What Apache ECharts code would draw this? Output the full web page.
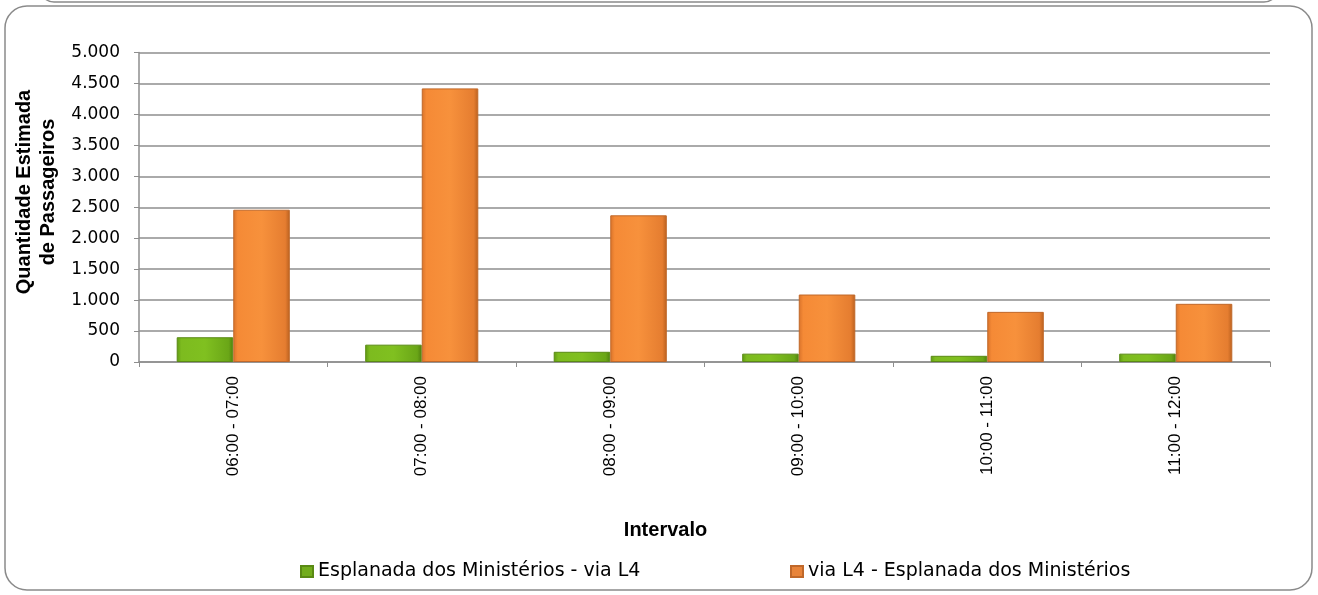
<!DOCTYPE html>
<html>
<head>
<meta charset="utf-8">
<script src="https://cdn.jsdelivr.net/npm/echarts@6/dist/echarts.min.js"></script>
<style>
html,body{margin:0;padding:0;background:#fff;}
#c{width:1318px;height:595px;}
</style>
</head>
<body>
<div id="c"></div>
<script>
var categories = ['06:00 - 07:00','07:00 - 08:00','08:00 - 09:00','09:00 - 10:00','10:00 - 11:00','11:00 - 12:00'];
var seriesNames = ['Esplanada dos Ministérios - via L4','via L4 - Esplanada dos Ministérios'];
var greenValues = [400, 280, 165, 135, 100, 135];
var orangeValues = [2460, 4420, 2370, 1090, 810, 940];
var yAxisTitle = 'Quantidade Estimada\nde Passageiros';
var xAxisTitle = 'Intervalo';

var FONT = '"Liberation Sans", "DejaVu Sans", sans-serif';
var WIDE = '"DejaVu Sans", "Liberation Sans", sans-serif';
var chart = echarts.init(document.getElementById('c'), null, {renderer:'canvas'});

function grad(stops){
  return new echarts.graphic.LinearGradient(0,0,1,0, stops);
}
var greenFill = grad([
  {offset:0, color:'#5f9a12'},
  {offset:0.08, color:'#7dbb1f'},
  {offset:0.5, color:'#80c020'},
  {offset:0.92, color:'#6aa617'},
  {offset:1, color:'#4f800e'}
]);
var orangeFill = grad([
  {offset:0, color:'#d8722a'},
  {offset:0.08, color:'#f58a36'},
  {offset:0.5, color:'#f7913c'},
  {offset:0.92, color:'#e57d30'},
  {offset:1, color:'#b9601f'}
]);

chart.setOption({
  backgroundColor:'#ffffff',
  animation:false,
  textStyle:{fontFamily:FONT},
  graphic:[
    {type:'rect', shape:{x:5,y:6,width:1307,height:584,r:22}, style:{fill:'none', stroke:'#8a8a8a', lineWidth:1.5}, z:-1},
    {type:'rect', shape:{x:40,y:-30,width:1238,height:32,r:14}, style:{fill:'none', stroke:'#8a8a8a', lineWidth:1.5}, z:-1},
    {type:'text', x:36, y:192, rotation:Math.PI/2,
     style:{text:yAxisTitle, align:'center', verticalAlign:'middle', lineHeight:24,
            font:'bold 20px "Liberation Sans", sans-serif', fill:'#000'}}
  ],
  grid:{left:139, right:48, top:52.5, bottom:233, containLabel:false},
  legend:[
    {data:[{name:seriesNames[0], itemStyle:{color:'#72ad1c'}}], left:300, top:562, padding:0,
     itemWidth:12, itemHeight:11, icon:'rect',
     textStyle:{fontSize:19, color:'#000', fontFamily:WIDE}},
    {data:[{name:seriesNames[1], itemStyle:{color:'#e8843a'}}], left:790, top:562, padding:0,
     itemWidth:12, itemHeight:11, icon:'rect',
     textStyle:{fontSize:19, color:'#000', fontFamily:WIDE}}
  ],
  xAxis:{
    type:'category',
    data:categories,
    name:xAxisTitle,
    nameLocation:'middle',
    nameGap:158,
    nameTextStyle:{fontSize:20, fontWeight:'bold', color:'#000', padding:[0,78,0,0]},
    axisLine:{lineStyle:{color:'#8e8e8e', width:1.5}},
    axisTick:{show:true, length:5, lineStyle:{color:'#8e8e8e'}},
    axisLabel:{rotate:90, fontSize:17, color:'#000', margin:14, interval:0}
  },
  yAxis:{
    type:'value',
    min:0, max:5000, interval:500,
    axisLine:{show:true, lineStyle:{color:'#8e8e8e', width:1.5}},
    axisTick:{show:true, length:5, lineStyle:{color:'#8e8e8e'}},
    splitLine:{lineStyle:{color:'#8e8e8e', width:1.5}},
    axisLabel:{fontSize:17, color:'#000', margin:19, fontFamily:WIDE,
      formatter:function(v){return String(v).replace(/\B(?=(\d{3})+(?!\d))/g,'.');}}
  },
  series:[
    {name:seriesNames[0], type:'bar', data:greenValues, barGap:'0%', barCategoryGap:'40%',
     itemStyle:{color:greenFill, borderColor:'#5a8a14', borderWidth:1}},
    {name:seriesNames[1], type:'bar', data:orangeValues, barGap:'0%', barCategoryGap:'40%',
     itemStyle:{color:orangeFill, borderColor:'#c0682a', borderWidth:1}}
  ]
});
</script>
</body>
</html>
